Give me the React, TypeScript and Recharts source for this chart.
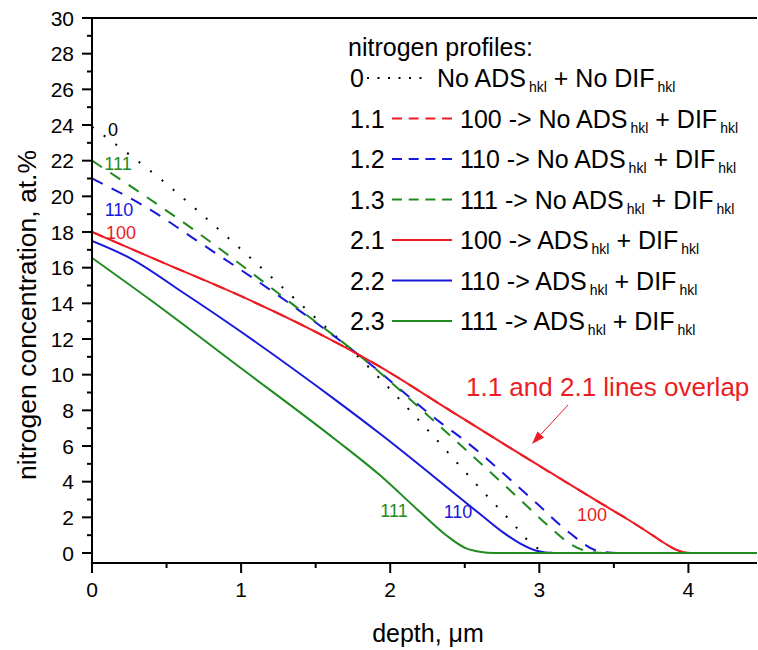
import { LineChart, Line, XAxis, YAxis, ReferenceLine } from "recharts";

const FONT = '"Liberation Sans", Arial, sans-serif';
const RED = "#ec1c24";
const BLUE = "#1818dc";
const GREEN = "#1f8a1f";

// profiles: depth in µm, concentration in at.%
const depth0 = [0, 0.47, 0.91, 1.51, 1.81, 2.23, 2.6, 2.85, 2.93, 3.02, 3.1, 3.3, 4.46];
const conc0 = [23.9, 20.9, 17.7, 13.1, 10.8, 7.1, 3.65, 1.4, 0.65, 0.13, 0, 0, 0];

const depth12 = [0, 0.42, 0.67, 1.29, 1.82, 2.34, 2.47, 2.98, 3.2, 3.4, 3.55, 4.46];
const conc12 = [21, 19.1, 17.7, 14.2, 10.9, 7.3, 6.5, 2.8, 1.15, 0.1, 0, 0];

const depth13 = [0, 0.67, 1.4, 1.82, 2.32, 2.85, 3.05, 3.22, 3.35, 3.45, 4.46];
const conc13 = [22, 18.2, 13.6, 10.9, 7.2, 3.16, 1.6, 0.45, 0.05, 0, 0];

const depth21 = [0, 0.5, 1.0, 1.5, 1.93, 2.4, 2.9, 3.4, 3.6, 3.75, 3.85, 3.92, 3.98, 4.05, 4.46];
const conc21 = [18, 16.2, 14.4, 12.4, 10.45, 8.0, 5.4, 2.85, 1.85, 1.05, 0.5, 0.18, 0.03, 0, 0];

const depth22 = [0, 0.24, 0.62, 0.87, 1.63, 1.93, 2.6, 2.75, 2.87, 2.98, 3.1, 4.46];
const conc22 = [17.5, 16.6, 14.55, 13.15, 8.6, 6.7, 2.2, 1.2, 0.54, 0.13, 0, 0];

const depth23 = [0, 0.39, 1.0, 1.63, 1.93, 2.2, 2.375, 2.51, 2.6, 2.7, 4.46];
const conc23 = [16.55, 14.2, 10.36, 6.38, 4.37, 2.3, 1.0, 0.26, 0.07, 0, 0];

const xTicks = [0, 0.5, 1, 1.5, 2, 2.5, 3, 3.5, 4];
const yTicks = Array.from({ length: 31 }, (_, i) => i);

const zip = (xs: number[], ys: number[]) => xs.map((x, i) => ({ x, y: ys[i] }));

const series = [
  { id: "0", color: "#000", dash: "2 12.6", legendDash: "2 8.5", data: zip(depth0, conc0) },
  { id: "1.1", color: RED, dash: "12 10", legendDash: "10 6.7", data: zip(depth21, conc21) },
  { id: "1.2", color: BLUE, dash: "12 10", legendDash: "10 6.7", data: zip(depth12, conc12) },
  { id: "1.3", color: GREEN, dash: "12 10", legendDash: "10 6.7", data: zip(depth13, conc13) },
  { id: "2.1", color: RED, dash: undefined, legendDash: undefined, data: zip(depth21, conc21) },
  { id: "2.2", color: BLUE, dash: undefined, legendDash: undefined, data: zip(depth22, conc22) },
  { id: "2.3", color: GREEN, dash: undefined, legendDash: undefined, data: zip(depth23, conc23) },
];

const legendText = [
  ["No ADS", " + No DIF"],
  ["100 -> No ADS", " + DIF"],
  ["110 -> No ADS", " + DIF"],
  ["111 -> No ADS", " + DIF"],
  ["100 -> ADS", " + DIF"],
  ["110 -> ADS", " + DIF"],
  ["111 -> ADS", " + DIF"],
];

const TICK_SIZE = 10;
const TICK_MARGIN = 8;

function YTick(props: any) {
  const { x, y, payload } = props;
  const axisX = x + TICK_SIZE + TICK_MARGIN;
  const major = payload.value % 2 === 0;
  return (
    <g>
      <line x1={axisX} x2={axisX - (major ? 10 : 5)} y1={y} y2={y} stroke="#000" strokeWidth={2} />
      {major && (
        <text x={x} y={y} textAnchor="end" dominantBaseline="central" fontSize={21} fontFamily={FONT} fill="#000">
          {payload.value}
        </text>
      )}
    </g>
  );
}

function XTick(props: any) {
  const { x, y, payload } = props;
  const axisY = y - TICK_SIZE - TICK_MARGIN;
  const major = Number.isInteger(payload.value);
  return (
    <g>
      <line x1={x} x2={x} y1={axisY} y2={axisY + (major ? 10 : 5)} stroke="#000" strokeWidth={2} />
      {major && (
        <text x={x} y={axisY + 26} textAnchor="middle" dominantBaseline="central" fontSize={21} fontFamily={FONT} fill="#000">
          {payload.value}
        </text>
      )}
    </g>
  );
}

function SubText({ x, y, parts, color = "#000" }: { x: number; y: number; parts: string[]; color?: string }) {
  return (
    <text x={x} y={y} dominantBaseline="central" fontSize={25} fontFamily={FONT} fill={color}>
      {parts[0]}
      <tspan fontSize={14} dx={3} dy={9}>hkl</tspan>
      <tspan fontSize={25} dy={-9}>{parts[1]}</tspan>
      <tspan fontSize={14} dx={3} dy={9}>hkl</tspan>
    </text>
  );
}

function Overlay() {
  const tip = { x: 532, y: 444 };
  const from = { x: 568, y: 405 };
  const dx = tip.x - from.x;
  const dy = tip.y - from.y;
  const len = Math.hypot(dx, dy);
  const ux = dx / len;
  const uy = dy / len;
  const bx = tip.x - ux * 13;
  const by = tip.y - uy * 13;
  const head = `${tip.x},${tip.y} ${bx + uy * 4.5},${by - ux * 4.5} ${bx - uy * 4.5},${by + ux * 4.5}`;

  return (
    <svg width={758} height={650} style={{ position: "absolute", left: 0, top: 0, pointerEvents: "none" }}>
      <g fontFamily={FONT}>
        {/* axis titles */}
        <text x={428} y={633} textAnchor="middle" dominantBaseline="central" fontSize={25}>
          depth, μm
        </text>
        <text
          x={27}
          y={315}
          textAnchor="middle"
          dominantBaseline="central"
          fontSize={26.5}
          transform="rotate(-90 27 315)"
        >
          nitrogen concentration, at.%
        </text>

        {/* legend */}
        <text x={348} y={47} dominantBaseline="central" fontSize={25}>
          nitrogen profiles:
        </text>
        {series.map((s, i) => {
          const y = 78 + i * 40.5;
          const x1 = i === 0 ? 367 : 392;
          const x2 = i === 0 ? 430 : 452;
          const tx = i === 0 ? 437 : 460;
          return (
            <g key={s.id}>
              <text x={350} y={y} dominantBaseline="central" fontSize={25}>
                {s.id}
              </text>
              <line x1={x1} x2={x2} y1={y} y2={y} stroke={s.color} strokeWidth={2} strokeDasharray={s.legendDash} />
              <SubText x={tx} y={y} parts={legendText[i]} />
            </g>
          );
        })}

        {/* annotation */}
        <text x={466} y={387} dominantBaseline="central" fontSize={26} fill={RED}>
          1.1 and 2.1 lines overlap
        </text>
        <line x1={from.x} y1={from.y} x2={bx} y2={by} stroke={RED} strokeWidth={1} />
        <polygon points={head} fill={RED} />

        {/* curve labels */}
        <g fontSize={18} textAnchor="middle" dominantBaseline="central">
          <text x={113} y={130} fill="#000">0</text>
          <text x={118} y={164} fill={GREEN}>111</text>
          <text x={119} y={210} fill={BLUE}>110</text>
          <text x={121} y={233} fill={RED}>100</text>
          <text x={394} y={511} fill={GREEN}>111</text>
          <text x={458} y={512} fill={BLUE}>110</text>
          <text x={592} y={515} fill={RED}>100</text>
        </g>
      </g>
    </svg>
  );
}

export default function App() {
  return (
    <div style={{ position: "absolute", left: 0, top: 0, width: 758, height: 650, background: "#fff" }}>
      <LineChart width={758} height={650} margin={{ top: 18, right: 1, left: 0, bottom: 0 }}>
        <XAxis
          dataKey="x"
          type="number"
          domain={[0, 4.46]}
          allowDataOverflow
          ticks={xTicks}
          height={87}
          tickSize={TICK_SIZE}
          tickMargin={TICK_MARGIN}
          tickLine={false}
          axisLine={{ stroke: "#000", strokeWidth: 2 }}
          tick={(p: any) => <XTick {...p} />}
        />
        <YAxis
          dataKey="y"
          type="number"
          domain={[-0.56, 30]}
          allowDataOverflow
          ticks={yTicks}
          interval={0}
          width={92}
          tickSize={TICK_SIZE}
          tickMargin={TICK_MARGIN}
          tickLine={false}
          axisLine={{ stroke: "#000", strokeWidth: 2 }}
          tick={(p: any) => <YTick {...p} />}
        />
        <ReferenceLine y={30} stroke="#000" strokeWidth={2} />
        {series.map((s) => (
          <Line
            key={s.id}
            data={s.data}
            dataKey="y"
            type="monotone"
            stroke={s.color}
            strokeWidth={2}
            strokeDasharray={s.dash}
            dot={false}
            activeDot={false}
            isAnimationActive={false}
          />
        ))}
      </LineChart>
      <Overlay />
    </div>
  );
}
